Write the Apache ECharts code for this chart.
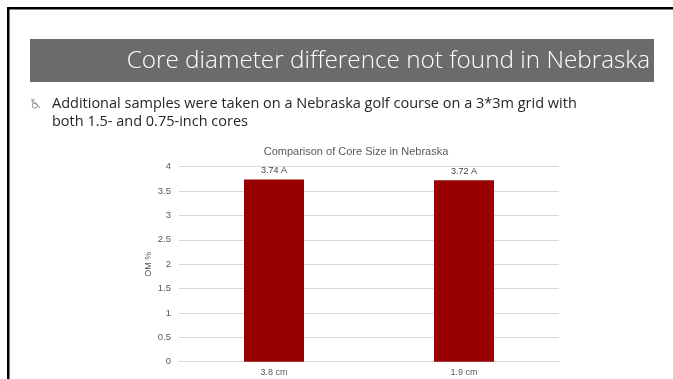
<!DOCTYPE html>
<html>
<head>
<meta charset="utf-8">
<script src="https://cdn.jsdelivr.net/npm/echarts@6/dist/echarts.min.js"></script>
<style>
  html, body { margin: 0; padding: 0; background: #fff; }
  #chart { width: 673px; height: 379px; }
</style>
</head>
<body>
<div id="chart"></div>
<script>
// Core size comparison (OM %) for Nebraska samples
const categories = ['3.8 cm', '1.9 cm'];
const omValues = [3.74, 3.72];
const letterGroups = ['A', 'A'];
const yTicks = [0, 0.5, 1, 1.5, 2, 2.5, 3, 3.5, 4];

const slideTitle = 'Core diameter difference not found in Nebraska';
const bulletLines = [
  'Additional samples were taken on a Nebraska golf course on a 3*3m grid with',
  'both 1.5- and 0.75-inch cores'
];

const chart = echarts.init(document.getElementById('chart'), null, { renderer: 'canvas' });

const bulletStroke = { fill: 'none', stroke: '#8c8c8c', lineWidth: 1 };

const option = {
  backgroundColor: '#ffffff',
  animation: false,
  title: {
    text: 'Comparison of Core Size in Nebraska',
    left: 351,
    textAlign: 'center',
    top: 141,
    textStyle: { fontFamily: 'Liberation Sans', fontSize: 11, fontWeight: 'normal', color: '#595959' }
  },
  grid: { left: 179, right: 114, top: 166.7, bottom: 17.3, containLabel: false },
  xAxis: {
    type: 'category',
    data: categories,
    axisLine: { show: true, lineStyle: { color: '#d9d9d9' } },
    axisTick: { show: false },
    axisLabel: { fontFamily: 'Liberation Sans', fontSize: 9, color: '#595959', margin: 6 }
  },
  yAxis: {
    type: 'value',
    min: yTicks[0],
    max: yTicks[yTicks.length - 1],
    interval: 0.5,
    name: 'OM %',
    nameLocation: 'middle',
    nameGap: 26,
    nameMoveOverlap: false,
    nameRotate: 90,
    nameTextStyle: { fontFamily: 'Liberation Sans', fontSize: 9, color: '#595959' },
    axisLine: { show: false },
    axisTick: { show: false },
    splitLine: { lineStyle: { color: '#d9d9d9', width: 1 } },
    axisLabel: { fontFamily: 'Liberation Sans', fontSize: 9.5, color: '#595959', margin: 8 }
  },
  series: [{
    type: 'bar',
    data: omValues,
    barWidth: 60,
    itemStyle: { color: '#990000' },
    label: {
      show: true,
      position: 'top',
      distance: 4,
      fontFamily: 'Liberation Sans',
      fontSize: 9,
      color: '#404040',
      formatter: p => p.value.toFixed(2) + ' ' + letterGroups[p.dataIndex]
    }
  }],
  graphic: [
    // slide frame lines
    { type: 'rect', shape: { x: 7, y: 7, width: 666, height: 2.5 }, style: { fill: '#000' } },
    { type: 'rect', shape: { x: 7, y: 7, width: 2.5, height: 372 }, style: { fill: '#000' } },
    // heading band
    { type: 'rect', shape: { x: 30, y: 39, width: 624, height: 43 }, style: { fill: '#6b6b6b' } },
    {
      type: 'text', x: 650, y: 61,
      style: {
        text: slideTitle, fill: '#ffffff', align: 'right', verticalAlign: 'middle',
        font: '300 24.3px "Open Sans"'
      }
    },
    // bullet glyph: loop crossed by a slash
    { type: 'line', shape: { x1: 31, y1: 98.5, x2: 40, y2: 108 }, style: bulletStroke },
    { type: 'circle', shape: { cx: 34.8, cy: 105.6, r: 2.6 }, style: bulletStroke },
    {
      type: 'bezierCurve',
      shape: { x1: 33, y1: 103.5, cpx1: 31.5, cpy1: 101.5, cpx2: 32, cpy2: 99, x2: 34.5, y2: 99.5 },
      style: bulletStroke
    },
    {
      type: 'text', x: 52, y: 104,
      style: { text: bulletLines[0], fill: '#262626', align: 'left', verticalAlign: 'middle', font: '14.5px "Open Sans"' }
    },
    {
      type: 'text', x: 52, y: 122,
      style: { text: bulletLines[1], fill: '#262626', align: 'left', verticalAlign: 'middle', font: '14.5px "Open Sans"' }
    }
  ]
};

chart.setOption(option);
</script>
</body>
</html>
